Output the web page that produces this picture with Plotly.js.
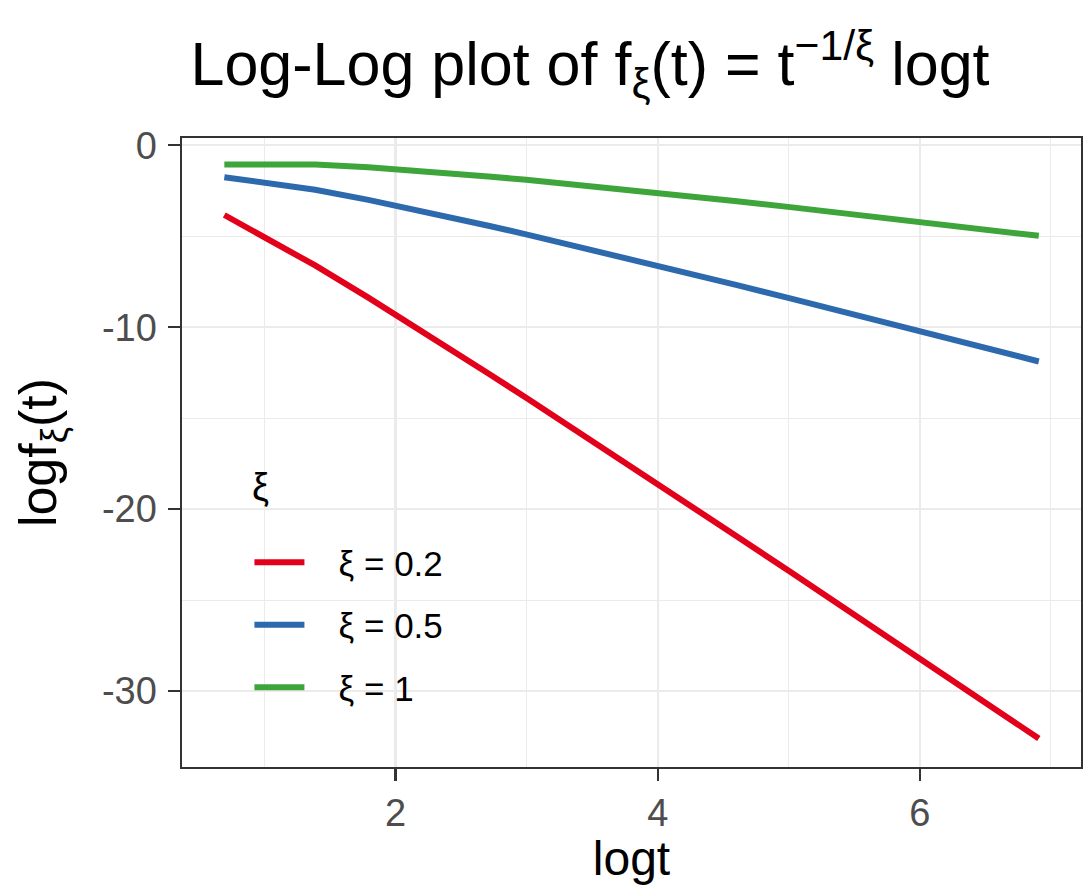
<!DOCTYPE html>
<html>
<head>
<meta charset="utf-8">
<script src="https://cdn.plot.ly/plotly-3.0.1.min.js"></script>
<style>html,body{margin:0;padding:0;background:#fff;}#chart{width:1083px;height:885px;}</style>
</head>
<body>
<div id="chart"></div>
<script>
// log t values (t = 2, 4, 6, 8, 10, 15, 20, 30, 50, 75, 100, 150, 200, 300, 500, 750, 1000)
const logt = [0.693, 1.386, 1.792, 2.079, 2.303, 2.708, 2.996, 3.401, 3.912, 4.318, 4.605, 5.011, 5.298, 5.704, 6.215, 6.620, 6.908];
const xi02 = [-3.832, -6.605, -8.376, -9.665, -10.679, -12.544, -13.881, -15.782, -18.196, -20.125, -21.499, -23.442, -24.824, -26.778, -29.246, -31.210, -32.606];
const xi05 = [-1.753, -2.446, -3.000, -3.427, -3.771, -4.420, -4.894, -5.578, -6.460, -7.172, -7.683, -8.410, -8.929, -9.667, -10.602, -11.350, -11.883];
const xi1  = [-1.060, -1.060, -1.209, -1.347, -1.469, -1.712, -1.899, -2.177, -2.548, -2.855, -3.078, -3.399, -3.631, -3.963, -4.388, -4.730, -4.975];
const seriesNames = ["ξ = 0.2", "ξ = 0.5", "ξ = 1"];
const legendTitle = "ξ";
const xTicks = [2, 4, 6];
const yTicks = [0, -10, -20, -30];

const colors = ["#e2001a", "#2d69ad", "#3ea53a"];
const ys = [xi02, xi05, xi1];
const traces = ys.map((y, i) => ({
  type: "scatter", mode: "lines", x: logt, y: y,
  name: "\u00a0\u00a0\u00a0" + seriesNames[i],
  legendgroup: "g" + i,
  line: {color: colors[i], width: 6}
}));

const font = "Liberation Sans, Arial, sans-serif";
const layout = {
  width: 1083, height: 885,
  margin: {l: 182, r: 2, t: 138, b: 118},
  paper_bgcolor: "#fff", plot_bgcolor: "#fff",
  font: {family: font, color: "#000"},
  title: {
    text: "Log-Log plot of f<sub>ξ</sub>(t) = t<sup>−1/ξ</sup> logt",
    font: {family: font, size: 61, color: "#000"},
    x: 590 / 1083, xanchor: "center", xref: "container",
    y: 1 - 64 / 885, yanchor: "middle", yref: "container"
  },
  xaxis: {
    range: [0.37, 7.23],
    tickvals: xTicks, ticktext: xTicks.map(String),
    ticks: "outside", ticklen: 12, tickwidth: 2.4, tickcolor: "#333",
    ticklabelstandoff: 0,
    tickfont: {family: font, size: 38, color: "#4d4d4d"},
    showgrid: true, gridcolor: "#ebebeb", gridwidth: 2.4,
    minor: {tickvals: [1, 3, 5, 7], showgrid: true, gridcolor: "#ebebeb", gridwidth: 1.2, ticks: ""},
    showline: true, mirror: true, linecolor: "#333", linewidth: 1.6,
    zeroline: false,
    title: {text: "logt", font: {family: font, size: 48, color: "#000"}, standoff: 16}
  },
  yaxis: {
    range: [-34.17, 0.4],
    tickvals: yTicks, ticktext: yTicks.map(String),
    ticks: "outside", ticklen: 12, tickwidth: 2.4, tickcolor: "#333",
    ticklabelstandoff: 4,
    tickfont: {family: font, size: 38, color: "#4d4d4d"},
    showgrid: true, gridcolor: "#ebebeb", gridwidth: 2.4,
    minor: {tickvals: [-5, -15, -25], showgrid: true, gridcolor: "#ebebeb", gridwidth: 1.2, ticks: ""},
    showline: true, mirror: true, linecolor: "#333", linewidth: 1.6,
    zeroline: false,
    title: {text: "logf<sub>ξ</sub>(t)", font: {family: font, size: 52, color: "#000"}, standoff: 28}
  },
  shapes: [{
    type: "rect", xref: "x domain", yref: "y domain",
    x0: 0.0445, x1: 0.331, y0: 0.083, y1: 0.544,
    fillcolor: "#fff", line: {width: 0}, layer: "below"
  }],
  annotations: [{
    text: legendTitle, xref: "x domain", yref: "y domain",
    x: (250 - 182) / 899, y: (767 - 487) / 629, xanchor: "left", yanchor: "middle",
    showarrow: false, font: {family: font, size: 38, color: "#000"}
  }],
  showlegend: true,
  legend: {
    x: 0.075, y: 0.372, xanchor: "left", yanchor: "top",
    bgcolor: "rgba(0,0,0,0)", borderwidth: 0,
    font: {family: font, size: 35, color: "#000"},
    tracegroupgap: 14, itemwidth: 50,
    traceorder: "grouped"
  }
};

Plotly.newPlot("chart", traces, layout, {displayModeBar: false, staticPlot: true});
</script>
</body>
</html>
